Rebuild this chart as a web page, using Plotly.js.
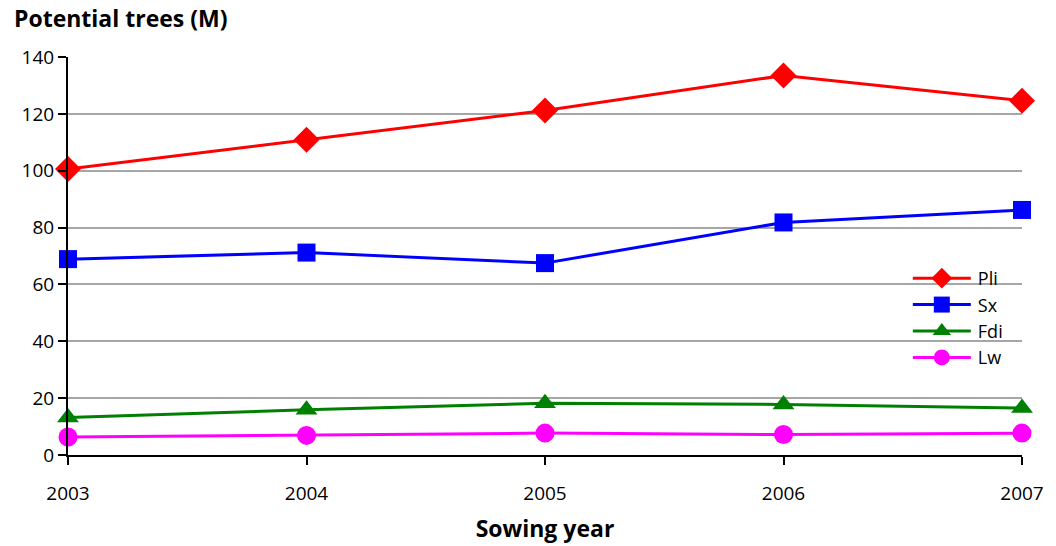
<!DOCTYPE html>
<html>
<head>
<meta charset="utf-8">
<script src="https://cdn.plot.ly/plotly-3.0.1.min.js"></script>
<style>
  html, body { margin: 0; padding: 0; background: #ffffff; }
  #chart { width: 1056px; height: 546px; }
</style>
</head>
<body>
<div id="chart"></div>
<script>
// Sowing years
const years = [2003, 2004, 2005, 2006, 2007];

// Potential trees (millions) by species
const pli = [100.6, 110.9, 121.2, 133.5, 124.6];
const sx  = [68.9, 71.2, 67.5, 81.8, 86.2];
const fdi = [13.2, 15.9, 18.2, 17.8, 16.5];
const lw  = [6.3, 6.9, 7.7, 7.2, 7.7];

const fontFamily = '"Open Sans", "DejaVu Sans", sans-serif';

function series(name, values, color, symbol, size) {
  return {
    type: 'scatter',
    mode: 'lines+markers',
    name: name,
    x: years,
    y: values,
    line: { color: color, width: 3 },
    marker: { color: color, symbol: symbol, size: size },
    cliponaxis: false
  };
}

const data = [
  series('Pli', pli, '#ff0000', 'diamond', 20),
  series('Sx', sx, '#0000ff', 'square', 18),
  series('Fdi', fdi, '#008000', 'triangle-up', 19),
  series('Lw', lw, '#ff00ff', 'circle', 19)
];

const layout = {
  width: 1056,
  height: 546,
  paper_bgcolor: '#ffffff',
  plot_bgcolor: '#ffffff',
  margin: { l: 68, r: 34, t: 57, b: 91 },
  font: { family: fontFamily, size: 19, color: '#000000' },
  showlegend: true,
  legend: {
    x: 0.895, y: 0.49, xanchor: 'left', yanchor: 'top',
    bgcolor: 'rgba(0,0,0,0)',
    font: { family: fontFamily, size: 18, color: '#000000' },
    tracegroupgap: 0,
    itemwidth: 30
  },
  xaxis: {
    range: [2003, 2007],
    tickvals: years,
    ticktext: years.map(String),
    showgrid: false,
    zeroline: false,
    showline: true,
    linecolor: '#000000',
    linewidth: 2,
    ticks: 'outside',
    ticklen: 8,
    tickwidth: 2,
    tickcolor: '#000000',
    ticklabelstandoff: 12,
    tickfont: { family: fontFamily, size: 19 },
    title: {
      text: '<b>Sowing year</b>',
      font: { family: fontFamily, size: 23 },
      standoff: 16
    },
    fixedrange: true
  },
  yaxis: {
    range: [0, 140],
    dtick: 20,
    showgrid: true,
    gridcolor: '#a6a6a6',
    gridwidth: 2,
    zeroline: false,
    showline: true,
    linecolor: '#000000',
    linewidth: 2,
    ticks: 'outside',
    ticklen: 8,
    tickwidth: 2,
    tickcolor: '#000000',
    tickfont: { family: fontFamily, size: 19 },
    fixedrange: true
  },
  annotations: [{
    text: '<b>Potential trees (M)</b>',
    xref: 'paper', yref: 'paper',
    x: -0.059, y: 1.098,
    xanchor: 'left', yanchor: 'middle',
    showarrow: false,
    font: { family: fontFamily, size: 23, color: '#000000' }
  }]
};

Plotly.newPlot('chart', data, layout, { displayModeBar: false, staticPlot: true })
  .then(function (gd) {
    // Let the widened legend entries draw past the legend's own clip box
    gd.querySelectorAll('.legend [clip-path]').forEach(function (el) {
      el.removeAttribute('clip-path');
    });
    // Longer legend swatch lines with the marker centred on them
    gd.querySelectorAll('.legend .traces').forEach(function (tr) {
      tr.querySelectorAll('.legendlines path').forEach(function (p) {
        p.setAttribute('d', 'M-9,0h58');
      });
      const txt = tr.querySelector('text.legendtext');
      if (txt) txt.setAttribute('x', '56');
    });
  });
</script>
</body>
</html>
